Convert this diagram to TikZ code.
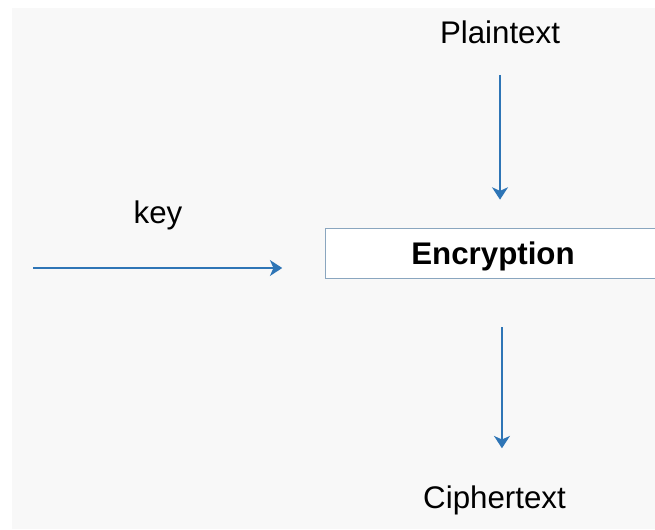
\documentclass[tikz,border=0pt]{standalone}
\usepackage{fontspec}
\setmainfont{Liberation Sans}
\usetikzlibrary{arrows.meta}
\definecolor{bgcol}{HTML}{F8F8F8}
\definecolor{arrcol}{HTML}{2E75B6}
\definecolor{boxcol}{HTML}{8AA6BF}
\begin{document}
\begin{tikzpicture}[x=0.02cm, y=-0.02cm,
	lab/.style={ anchor=base, inner sep=0pt, font=\fontsize{17.8}{21}\selectfont },
	flow/.style={ arrcol, line width=1.5pt, -{Stealth[length=7pt, width=9pt, inset=2pt]} },
	block/.style={ draw=boxcol, line width=0.6pt, fill=white, minimum width=190.5pt, minimum height=28.9pt,
		text height=12.8pt, text depth=0pt, font=\fontsize{17.8}{21}\selectfont\bfseries }
]

\useasboundingbox (0,0) rectangle (655,529);
\clip (0,0) rectangle (655,529);
\fill[bgcol] (12,8) rectangle (655,529);

\node[block] at (493,253.5) (enc) {Encryption};
\node[lab] at (500,43) (plain) {Plaintext};
\node[lab] at (494.5,508) (cipher) {Ciphertext};
\node[lab] at (158,223) (keylab) {key};
\coordinate (keyin) at (33,268);

\draw[flow, shorten <=18.1pt, shorten >=15.9pt] (plain.base) to (plain.base |- enc.north);
\draw[flow, shorten <=27.2pt, shorten >=34pt] ([xshift=5.1pt]enc.south) to ([xshift=5.1pt]enc.south |- cipher.base);
\draw[flow, shorten >=24.4pt] (keyin) to (keyin -| enc.west);

\end{tikzpicture}
\end{document}
